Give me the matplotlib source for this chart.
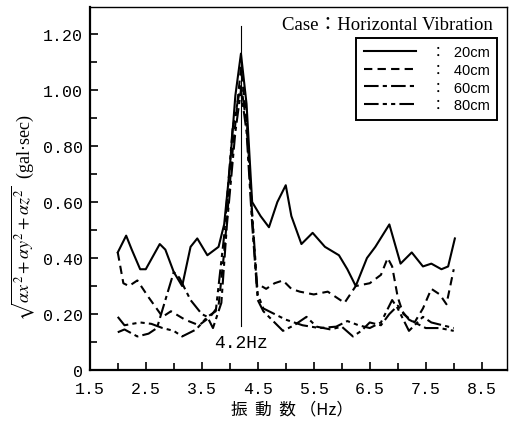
import matplotlib
matplotlib.use("Agg")
import matplotlib.pyplot as plt
from matplotlib.ticker import MultipleLocator, FixedLocator, FuncFormatter

plt.rcParams["font.family"] = ["Liberation Serif", "Noto Sans CJK JP"]
plt.rcParams["mathtext.fontset"] = "stix"

# 20cm
x_20 = [2.0, 2.15, 2.25, 2.4, 2.5, 2.75, 2.85, 3.0, 3.15, 3.3, 3.42, 3.6, 3.8, 3.9, 4.0, 4.1,
        4.2, 4.3, 4.4, 4.55, 4.7, 4.85, 5.0, 5.1, 5.28, 5.48, 5.7, 5.95, 6.1, 6.25, 6.45,
        6.6, 6.85, 7.05, 7.25, 7.45, 7.6, 7.78, 7.9, 8.02]
y_20 = [0.42, 0.48, 0.43, 0.36, 0.36, 0.45, 0.43, 0.35, 0.30, 0.44, 0.47, 0.41, 0.44, 0.52, 0.72, 0.98,
        1.13, 0.95, 0.60, 0.55, 0.51, 0.60, 0.66, 0.55, 0.45, 0.49, 0.44, 0.41, 0.36, 0.30, 0.40,
        0.44, 0.52, 0.38, 0.42, 0.37, 0.38, 0.36, 0.37, 0.47]

# 40cm
x_40 = [2.0, 2.1, 2.2, 2.35, 2.55, 2.8, 2.95, 3.2, 3.45, 3.65, 3.8, 3.9, 4.05, 4.2, 4.3, 4.4,
        4.48, 4.65, 4.8, 4.95, 5.1, 5.25, 5.5, 5.75, 5.9, 6.05, 6.25, 6.5, 6.7, 6.82, 6.9,
        7.0, 7.1, 7.3, 7.45, 7.6, 7.75, 7.87, 8.0]
y_40 = [0.42, 0.31, 0.30, 0.32, 0.26, 0.19, 0.21, 0.18, 0.16, 0.19, 0.23, 0.42, 0.78, 1.08, 0.90, 0.55,
        0.31, 0.29, 0.31, 0.32, 0.29, 0.28, 0.27, 0.28, 0.26, 0.24, 0.30, 0.31, 0.34, 0.40, 0.37,
        0.26, 0.20, 0.17, 0.22, 0.29, 0.27, 0.235, 0.36]

# 60cm
x_60 = [2.0, 2.12, 2.35, 2.55, 2.7, 2.85, 3.0, 3.1, 3.3, 3.5, 3.6, 3.7, 3.85, 3.95, 4.1, 4.2,
        4.3, 4.4, 4.5, 4.6, 4.75, 4.95, 5.15, 5.37, 5.55, 5.8, 6.0, 6.2, 6.35, 6.5, 6.7, 6.85,
        7.0, 7.2, 7.5, 7.75, 8.0]
y_60 = [0.135, 0.145, 0.12, 0.13, 0.15, 0.25, 0.35, 0.33, 0.25, 0.20, 0.19, 0.15, 0.24, 0.52, 0.85, 1.0,
        0.85, 0.52, 0.25, 0.21, 0.18, 0.14, 0.16, 0.19, 0.155, 0.145, 0.155, 0.12, 0.14, 0.17, 0.16, 0.20,
        0.23, 0.18, 0.15, 0.15, 0.14]

# 80cm
x_80 = [2.0, 2.12, 2.4, 2.6, 2.8, 3.0, 3.15, 3.4, 3.6, 3.75, 3.9, 4.05, 4.2, 4.3, 4.4, 4.5,
        4.6, 4.8, 5.0, 5.3, 5.6, 5.9, 6.1, 6.3, 6.5, 6.7, 6.9, 7.0, 7.2, 7.35, 7.45, 7.6, 7.8, 8.0]
y_80 = [0.19, 0.16, 0.17, 0.165, 0.15, 0.14, 0.12, 0.145, 0.19, 0.21, 0.48, 0.86, 1.02, 0.88, 0.56, 0.27,
        0.22, 0.20, 0.18, 0.16, 0.15, 0.155, 0.175, 0.16, 0.15, 0.17, 0.25, 0.22, 0.14, 0.17, 0.19, 0.17, 0.16, 0.15]

labels = ["：  20cm", "：  40cm", "：  60cm", "：  80cm"]
x_ticks = [1.5, 2.5, 3.5, 4.5, 5.5, 6.5, 7.5, 8.5]
peak_freq = 4.2


def main():
    fig = plt.figure(figsize=(5.1, 4.27), dpi=100)
    ax = fig.add_axes([0.176, 0.131, 0.818, 0.85])

    lw = 1.5
    l1, = ax.plot(x_20, y_20, color="black", lw=lw, linestyle="-")
    l2, = ax.plot(x_40, y_40, color="black", lw=lw, linestyle=(0, (4, 2.5)))
    l3, = ax.plot(x_60, y_60, color="black", lw=lw, linestyle=(0, (7, 2, 2, 2)))
    l4, = ax.plot(x_80, y_80, color="black", lw=lw, linestyle=(0, (7, 2, 2, 2, 2, 2)))

    # resonance marker
    ax.plot([peak_freq, peak_freq], [0.157, 1.23], color="black", lw=0.8)
    ax.text(peak_freq, 0.10, "4.2Hz", ha="center", va="center", fontsize=13,
            family="Liberation Mono")

    ax.set_xlim(1.5, 8.95)
    ax.set_ylim(0, 1.296)
    ax.xaxis.set_major_locator(FixedLocator(x_ticks))
    ax.xaxis.set_minor_locator(FixedLocator([2.0, 3.0, 4.0, 5.0, 6.0, 7.0, 8.0]))
    ax.yaxis.set_major_locator(MultipleLocator(0.2))
    ax.yaxis.set_minor_locator(MultipleLocator(0.1))
    ax.xaxis.set_major_formatter(FuncFormatter(lambda v, p: "%.1f" % v))
    ax.yaxis.set_major_formatter(FuncFormatter(lambda v, p: "0" if abs(v) < 1e-9 else "%.2f" % v))
    ax.tick_params(which="both", direction="in", width=1.2, labelsize=12)
    ax.tick_params(axis="x", pad=8)
    ax.tick_params(axis="y", pad=5)
    ax.tick_params(which="major", length=6)
    ax.tick_params(which="minor", length=5)
    for t in ax.get_xticklabels() + ax.get_yticklabels():
        t.set_family("Liberation Mono")

    for s in ["left", "bottom"]:
        ax.spines[s].set_linewidth(1.6)
    for s in ["top", "right"]:
        ax.spines[s].set_linewidth(1.0)

    fig.text(493 / 510, 1 - 25 / 427, "Case：Horizontal Vibration", ha="right", va="center",
             fontsize=13.5, family=["Liberation Serif", "Noto Sans CJK JP"])

    leg = ax.legend([l1, l2, l3, l4], labels, loc="upper right",
                    bbox_to_anchor=(497 / 510, 1 - 39 / 427), bbox_transform=fig.transFigure,
                    borderaxespad=0, fancybox=False, edgecolor="black", framealpha=1,
                    handlelength=3.6, borderpad=0.5, labelspacing=0.25, handletextpad=1.0,
                    prop={"family": ["Liberation Sans Narrow", "Liberation Sans", "Noto Sans CJK JP"],
                          "size": 10.5})
    leg.get_frame().set_linewidth(1.4)

    fig.text(0.045, 1 - 218 / 427, r"$\sqrt{\alpha x^2+\alpha y^2+\alpha z^2}$  (gal·sec)",
             rotation=90, ha="center", va="center", fontsize=13)
    fig.text(292 / 510, 1 - 410 / 427, "振  動  数 （Hz）", ha="center", va="center", fontsize=12,
             family=["Noto Sans CJK JP", "DejaVu Sans"])

    fig.savefig("out.png", dpi=100)


if __name__ == "__main__":
    main()
